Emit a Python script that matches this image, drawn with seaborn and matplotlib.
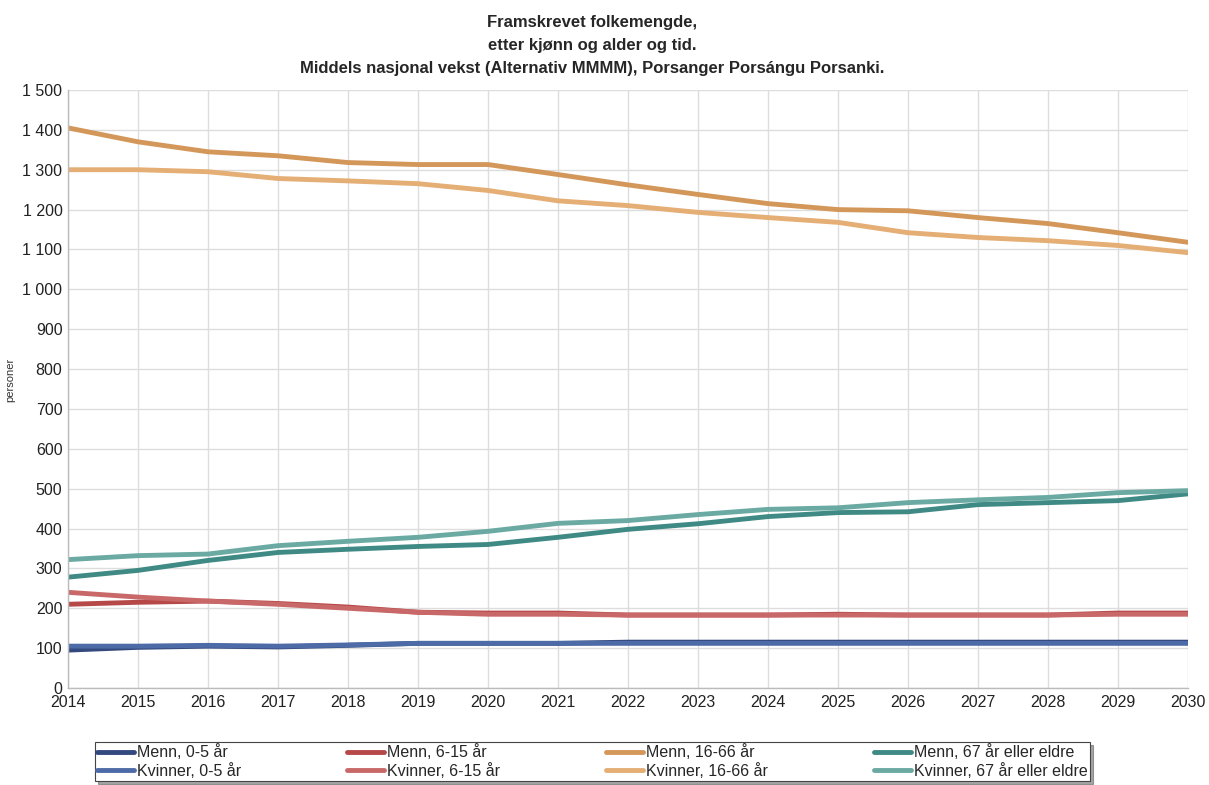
import numpy as np
import pandas as pd
import matplotlib
matplotlib.use("Agg")
import matplotlib.pyplot as plt
import matplotlib.ticker as mticker
import seaborn as sns

# Data
years = list(range(2014, 2031))

menn_0_5 = [95, 102, 105, 103, 107, 112, 112, 112, 115, 115, 115, 115, 115, 115, 115, 115, 115]
kvinner_0_5 = [105, 105, 107, 105, 108, 112, 112, 112, 112, 112, 112, 112, 112, 112, 112, 112, 112]
menn_6_15 = [210, 215, 218, 212, 203, 190, 188, 188, 183, 183, 183, 185, 183, 183, 183, 188, 188]
kvinner_6_15 = [240, 228, 218, 210, 200, 190, 185, 185, 183, 183, 183, 183, 183, 183, 183, 185, 185]
menn_16_66 = [1405, 1370, 1345, 1335, 1318, 1313, 1313, 1288, 1262, 1238, 1215, 1200, 1197, 1180, 1165, 1142, 1118]
kvinner_16_66 = [1300, 1300, 1295, 1278, 1272, 1265, 1248, 1222, 1210, 1193, 1180, 1168, 1142, 1130, 1122, 1110, 1092]
menn_67 = [278, 295, 320, 340, 348, 355, 360, 378, 398, 412, 430, 440, 442, 460, 465, 470, 487]
kvinner_67 = [322, 332, 336, 357, 368, 378, 393, 413, 420, 435, 448, 452, 465, 472, 478, 490, 495]

series = {
    "Menn, 0-5 år": menn_0_5,
    "Kvinner, 0-5 år": kvinner_0_5,
    "Menn, 6-15 år": menn_6_15,
    "Kvinner, 6-15 år": kvinner_6_15,
    "Menn, 16-66 år": menn_16_66,
    "Kvinner, 16-66 år": kvinner_16_66,
    "Menn, 67 år eller eldre": menn_67,
    "Kvinner, 67 år eller eldre": kvinner_67,
}

colors = {
    "Menn, 0-5 år": "#34497e",
    "Kvinner, 0-5 år": "#4d6ba6",
    "Menn, 6-15 år": "#b64848",
    "Kvinner, 6-15 år": "#c96868",
    "Menn, 16-66 år": "#d4975a",
    "Kvinner, 16-66 år": "#e4ae74",
    "Menn, 67 år eller eldre": "#3f8a84",
    "Kvinner, 67 år eller eldre": "#6aaaa2",
}

rows = []
for name, vals in series.items():
    for y, v in zip(years, vals):
        rows.append({"år": y, "personer": v, "serie": name})
df = pd.DataFrame(rows)

sns.set_theme(style="whitegrid")
plt.rcParams["font.family"] = ["Liberation Sans", "DejaVu Sans"]

fig = plt.figure(figsize=(12.09, 7.85), dpi=100)
ax = fig.add_axes([68 / 1209, 1 - 688 / 785, 1120 / 1209, 598 / 785])

sns.lineplot(data=df, x="år", y="personer", hue="serie", palette=colors,
             hue_order=list(series.keys()), linewidth=3.5, ax=ax, legend=False)

ax.set_xlim(2014, 2030)
ax.set_ylim(0, 1500)
ax.set_xticks(years)
ax.set_yticks(range(0, 1501, 100))
ax.yaxis.set_major_formatter(mticker.FuncFormatter(lambda v, p: f"{int(v):,}".replace(",", " ")))
ax.tick_params(axis="both", labelsize=11.5, colors="#222222", length=0)
ax.tick_params(axis="x", pad=5)
ax.tick_params(axis="y", pad=4)
ax.grid(True, color="#dddddd", linewidth=1)
ax.set_xlabel("")
ax.set_ylabel("personer", fontsize=8, color="#333333")
ax.yaxis.set_label_coords(-0.047, 0.515)
for side in ["top", "right"]:
    ax.spines[side].set_visible(False)
for side in ["left", "bottom"]:
    ax.spines[side].set_color("#bbbbbb")
    ax.spines[side].set_linewidth(1)

fig.text(0.49, 1 - 15 / 785, "Framskrevet folkemengde,\netter kjønn og alder og tid.\n"
         "Middels nasjonal vekst (Alternativ MMMM), Porsanger Porsángu Porsanki.",
         ha="center", va="top", fontsize=12, fontweight="bold", linespacing=1.65)

handles = [plt.Line2D([], [], color=colors[n], linewidth=3.5) for n in series]
leg = fig.legend(handles, list(series.keys()), loc="center", ncol=4,
                 bbox_to_anchor=(95 / 1209, 1 - 783 / 785, 995 / 1209, 43 / 785),
                 mode="expand", fancybox=False, shadow=True, frameon=True,
                 edgecolor="#444444", fontsize=11.5, handlelength=2.3,
                 handletextpad=0.2, borderpad=0.15, labelspacing=0.15, borderaxespad=0)
leg.get_frame().set_linewidth(0.8)

fig.savefig("out.png", dpi=100)
